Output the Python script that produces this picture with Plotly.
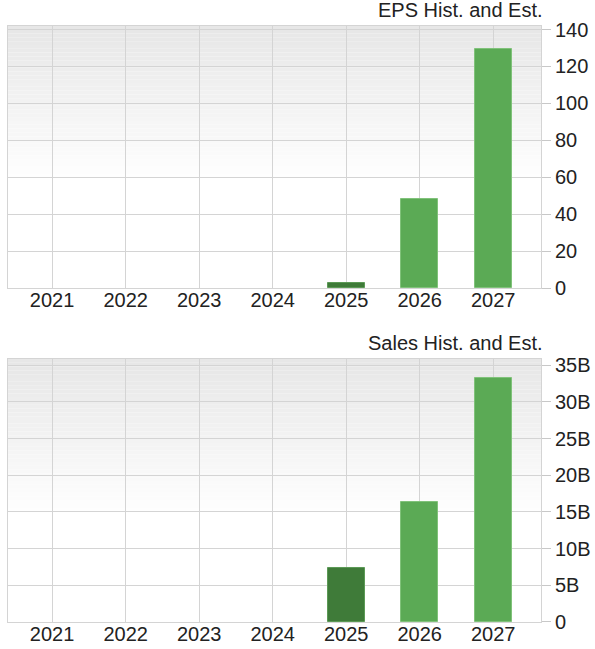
"""EPS and sales history / estimate bars, two stacked panels."""

import plotly.graph_objects as go
from plotly.subplots import make_subplots

years = ["2021", "2022", "2023", "2024", "2025", "2026", "2027"]
eps = [None, None, None, None, 2.8, 48.2, 129.3]
sales = [None, None, None, None, 7.4e9, 16.4e9, 33.3e9]
# 2025 is the reported year, later ones are estimates
is_actual = [True, True, True, True, True, False, False]

eps_ticks = [0, 20, 40, 60, 80, 100, 120, 140]
sales_ticks = [0, 5e9, 10e9, 15e9, 20e9, 25e9, 30e9, 35e9]
sales_ticklabels = ["0", "5B", "10B", "15B", "20B", "25B", "30B", "35B"]

DARK, DARK_EDGE = "#3f7b39", "#5c9a56"
LIGHT, LIGHT_EDGE = "#5baa55", "#80c27a"
GRID = "#d4d4d4"
FONT = "Liberation Sans"
FS = 20

fill = [DARK if a else LIGHT for a in is_actual]
edge = [DARK_EDGE if a else LIGHT_EDGE for a in is_actual]

fig = make_subplots(rows=2, cols=1)
fig.add_trace(go.Bar(x=years, y=eps, width=0.5, marker=dict(color=fill, line=dict(color=edge, width=1))),
              row=1, col=1)
fig.add_trace(go.Bar(x=years, y=sales, width=0.5, marker=dict(color=fill, line=dict(color=edge, width=1))),
              row=2, col=1)

# grey-to-white fade at the top of each panel
n = 40
for xa, ya in (("x domain", "y domain"), ("x2 domain", "y2 domain")):
    for i in range(n):
        t = i / n
        c = int(0xe7 + (0xff - 0xe7) * t)
        fig.add_shape(type="rect", xref=xa, yref=ya, x0=0, x1=1,
                      y0=1 - 0.58 * (i + 1) / n, y1=1 - 0.58 * i / n,
                      fillcolor=f"rgb({c},{c},{c})", line=dict(width=0), layer="below")

xcommon = dict(type="category", range=[-0.6, 6.65], showgrid=True, gridcolor=GRID, gridwidth=1,
               showline=True, linecolor=GRID, mirror=True, ticks="", fixedrange=True,
               ticklabelstandoff=-6,
               tickfont=dict(family=FONT, size=FS, color="#222"))
ycommon = dict(side="right", showgrid=True, gridcolor=GRID, gridwidth=1, zeroline=False,
               showline=True, linecolor=GRID, mirror=True, ticks="outside", ticklen=9,
               tickcolor="#c8c8c8", fixedrange=True,
               tickfont=dict(family=FONT, size=FS, color="#222"))

fig.update_layout(
    width=595, height=649,
    margin=dict(l=8, r=54, t=26, b=27, autoexpand=False),
    paper_bgcolor="white", plot_bgcolor="white",
    showlegend=False, bargap=0,
    xaxis=dict(**xcommon, domain=[0, 1]),
    xaxis2=dict(**xcommon, domain=[0, 1]),
    yaxis=dict(**ycommon, domain=[0.5604, 1], range=[0, 141.9], tickvals=eps_ticks),
    yaxis2=dict(**ycommon, domain=[0, 0.4413], range=[0, 35.86e9],
                tickvals=sales_ticks, ticktext=sales_ticklabels),
)

fig.add_annotation(xref="paper", yref="paper", x=1.0075, y=1.027, xanchor="right", yanchor="middle",
                   text="EPS Hist. and Est.", showarrow=False,
                   font=dict(family=FONT, size=FS, color="#222"))
fig.add_annotation(xref="paper", yref="paper", x=1.0075, y=0.4673, xanchor="right", yanchor="middle",
                   text="Sales Hist. and Est.", showarrow=False,
                   font=dict(family=FONT, size=FS, color="#222"))

# drop the browser's default body margin so the figure sits at the page corner
fig.write_html("out.html", config={"displayModeBar": False},
               post_script="document.body.style.margin = '0';")
